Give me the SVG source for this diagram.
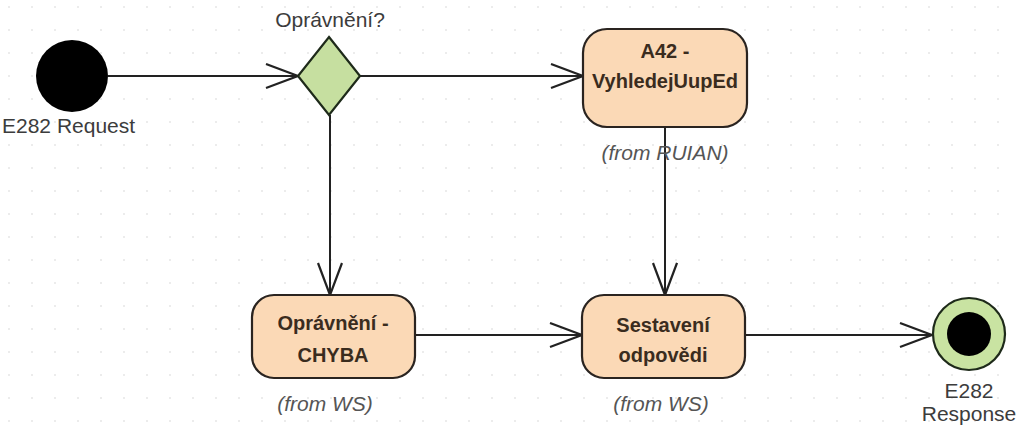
<svg xmlns="http://www.w3.org/2000/svg" width="1019" height="425" viewBox="0 0 1019 425">
<defs>
<pattern id="grid" x="8" y="6" width="23" height="23" patternUnits="userSpaceOnUse">
<rect x="0" y="0" width="2" height="2" fill="#ececec"/>
</pattern>
<marker id="arr" markerUnits="userSpaceOnUse" markerWidth="40" markerHeight="30" refX="33" refY="13" orient="auto">
<path d="M1,1 L33,13 L1,25" fill="none" stroke="#222" stroke-width="2.2"/>
</marker>
</defs>
<style>
.lbl{font-family:"Liberation Sans",Arial,sans-serif;font-size:21px;fill:#3c3c3c}
.bt{font-family:"Liberation Sans",Arial,sans-serif;font-size:20px;font-weight:bold;fill:#3a2c1e;text-anchor:middle}
.from{font-family:"Liberation Sans",Arial,sans-serif;font-size:21px;font-style:italic;fill:#555;text-anchor:middle}
.box{fill:#fbd9b6;stroke:#2a2420;stroke-width:2.2}
.edge{fill:none;stroke:#222;stroke-width:2;marker-end:url(#arr)}
</style>
<rect width="1019" height="425" fill="#ffffff"/>
<rect width="1019" height="425" fill="url(#grid)"/>
<g id="connectors">
<line class="edge" x1="108" y1="76" x2="298" y2="76"/>
<line class="edge" x1="360" y1="76" x2="583" y2="76"/>
<line class="edge" x1="330" y1="115" x2="330" y2="295"/>
<line class="edge" x1="665" y1="127" x2="665" y2="295"/>
<line class="edge" x1="415" y1="335" x2="582" y2="335"/>
<line class="edge" x1="745" y1="335" x2="932" y2="335"/>
</g>
<g id="start">
<circle cx="72" cy="76" r="36" fill="#000"/>
<text class="lbl" x="2" y="133">E282 Request</text>
</g>
<g id="decision">
<polygon points="329,37 360,76 329,115 298,76" fill="#c6dfa0" stroke="#1e2a1a" stroke-width="2.2"/>
<text class="lbl" x="330" y="27" text-anchor="middle">Oprávnění?</text>
</g>
<g id="a42">
<rect class="box" x="583" y="29" width="164" height="98" rx="24"/>
<text class="bt" x="665" y="58">A42 -</text>
<text class="bt" x="665" y="88">VyhledejUupEd</text>
<text class="from" x="665" y="160">(from RUIAN)</text>
</g>
<g id="chyba">
<rect class="box" x="252" y="295" width="163" height="83" rx="22"/>
<text class="bt" x="333" y="330">Oprávnění -</text>
<text class="bt" x="333" y="362">CHYBA</text>
<text class="from" x="325" y="411">(from WS)</text>
</g>
<g id="sestaveni">
<rect class="box" x="582" y="295" width="163" height="83" rx="22"/>
<text class="bt" x="663" y="332">Sestavení</text>
<text class="bt" x="663" y="362">odpovědi</text>
<text class="from" x="661" y="411">(from WS)</text>
</g>
<g id="end">
<circle cx="969" cy="334" r="36" fill="#c9e3a2" stroke="#1e2a1a" stroke-width="2.2"/>
<circle cx="969" cy="334" r="22" fill="#000"/>
<text class="lbl" x="969" y="398" text-anchor="middle">E282</text>
<text class="lbl" x="969" y="421" text-anchor="middle">Response</text>
</g>
</svg>
